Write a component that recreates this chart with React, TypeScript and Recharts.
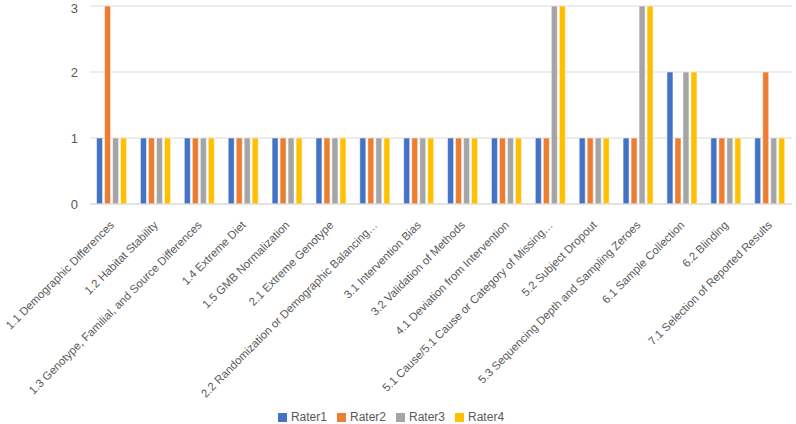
import React from "react";
import { BarChart, Bar, XAxis, YAxis, CartesianGrid, Legend } from "recharts";

const categories = [
  "1.1 Demographic Differences",
  "1.2 Habitat Stability",
  "1.3 Genotype, Familial, and Source Differences",
  "1.4 Extreme Diet",
  "1.5 GMB Normalization",
  "2.1 Extreme Genotype",
  "2.2 Randomization or Demographic Balancing…",
  "3.1 Intervention Bias",
  "3.2 Validation of Methods",
  "4.1 Deviation from Intervention",
  "5.1 Cause/5.1 Cause or Category of Missing…",
  "5.2 Subject Dropout",
  "5.3 Sequencing Depth and Sampling Zeroes",
  "6.1 Sample Collection",
  "6.2 Blinding",
  "7.1 Selection of Reported Results",
];

const rater1 = [1, 1, 1, 1, 1, 1, 1, 1, 1, 1, 1, 1, 1, 2, 1, 1];
const rater2 = [3, 1, 1, 1, 1, 1, 1, 1, 1, 1, 1, 1, 1, 1, 1, 2];
const rater3 = [1, 1, 1, 1, 1, 1, 1, 1, 1, 1, 3, 1, 3, 2, 1, 1];
const rater4 = [1, 1, 1, 1, 1, 1, 1, 1, 1, 1, 3, 1, 3, 2, 1, 1];

const yTicks = [0, 1, 2, 3];

const data = categories.map((name, i) => ({
  name,
  Rater1: rater1[i],
  Rater2: rater2[i],
  Rater3: rater3[i],
  Rater4: rater4[i],
}));

const FONT = "'Liberation Sans', 'DejaVu Sans', sans-serif";

// rotated category label, end of text sits under the group
function AngledTick(props: any) {
  const { x, y, payload } = props;
  return (
    <g transform={`translate(${x},${y + 11})`}>
      <text
        transform="rotate(-45)"
        textAnchor="end"
        fontSize={11.4}
        fill="#595959"
        fontFamily={FONT}
        dy={4}
      >
        {payload.value}
      </text>
    </g>
  );
}

export default function App() {
  return (
    <div style={{ position: "absolute", left: 0, top: 0, background: "#fff" }}>
      <BarChart
        width={796}
        height={424}
        data={data}
        margin={{ top: 6, right: 4, left: 0, bottom: 0 }}
        barGap={2}
        barCategoryGap="15%"
      >
        <CartesianGrid vertical={false} stroke="#D9D9D9" />
        <XAxis
          dataKey="name"
          interval={0}
          tick={<AngledTick />}
          tickLine={false}
          axisLine={{ stroke: "#D9D9D9" }}
          height={206}
        />
        <YAxis
          domain={[0, 3]}
          ticks={yTicks}
          width={90}
          tickLine={false}
          axisLine={false}
          tick={{ fontSize: 13, fill: "#595959", fontFamily: FONT }}
          tickMargin={6}
        />
        <Legend
          verticalAlign="bottom"
          iconType="square"
          iconSize={9}
          wrapperStyle={{ fontSize: 12, fontFamily: FONT, color: "#595959", bottom: 0 }}
          formatter={(v) => <span style={{ color: "#595959" }}>{v}</span>}
        />
        <Bar dataKey="Rater1" fill="#4472C4" stroke="#fff" strokeWidth={0.5} isAnimationActive={false} />
        <Bar dataKey="Rater2" fill="#ED7D31" stroke="#fff" strokeWidth={0.5} isAnimationActive={false} />
        <Bar dataKey="Rater3" fill="#A5A5A5" stroke="#fff" strokeWidth={0.5} isAnimationActive={false} />
        <Bar dataKey="Rater4" fill="#FFC000" stroke="#fff" strokeWidth={0.5} isAnimationActive={false} />
      </BarChart>
    </div>
  );
}
